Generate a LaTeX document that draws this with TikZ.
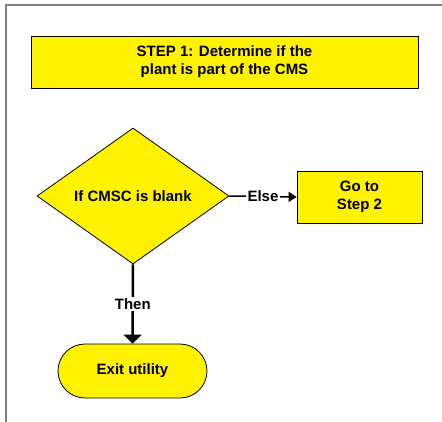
\documentclass[tikz,border=0pt]{standalone}
\usepackage{fontspec}
\setmainfont{Liberation Sans}
\usepackage{tikz}
\usetikzlibrary{arrows.meta}
\usetikzlibrary{shapes}
\usetikzlibrary{calc}
\begin{document}
\begin{tikzpicture}[x=1pt,y=-1pt,
			every node/.style={font=\fontsize{15}{18}\selectfont\bfseries},
			block/.style={draw=black,line width=0.8pt,fill=yellow,align=center,inner sep=0pt},
			lbl/.style={fill=white,inner sep=1.5pt}]
			\useasboundingbox (0,0) rectangle (442,422);
			%\draw[help lines] (0,0) grid (442,422);
			\draw[gray,line width=1.5pt] (6,422) -- (6,5) -- (442,5);
			
			\node[block,minimum width=387pt,minimum height=52pt] (title) at (224.5,62)
			{STEP 1: Determine if the\\plant is part of the CMS};
			\node[block,diamond,shape aspect=1.4,minimum width=192pt,minimum height=136pt] (cond) at (133,196)
			{If CMSC is blank};
			\node[block,minimum width=125pt,minimum height=52pt] (step2) at (359.5,197)
			{Go to\\Step 2};
			\node[block,rounded rectangle,minimum width=149pt,minimum height=54pt] (exit) at (132.5,371)
			{Exit utility};
			
			\draw[line width=1.5pt,-{Triangle[length=8pt,width=10pt]}] (cond.east) -- node[lbl]{Else} (step2.west);
			\draw[line width=2.5pt,-{Triangle[length=9pt,width=18pt]}] (cond.south) -- node[lbl]{Then} (exit.north);
		\end{tikzpicture}
\end{document}
